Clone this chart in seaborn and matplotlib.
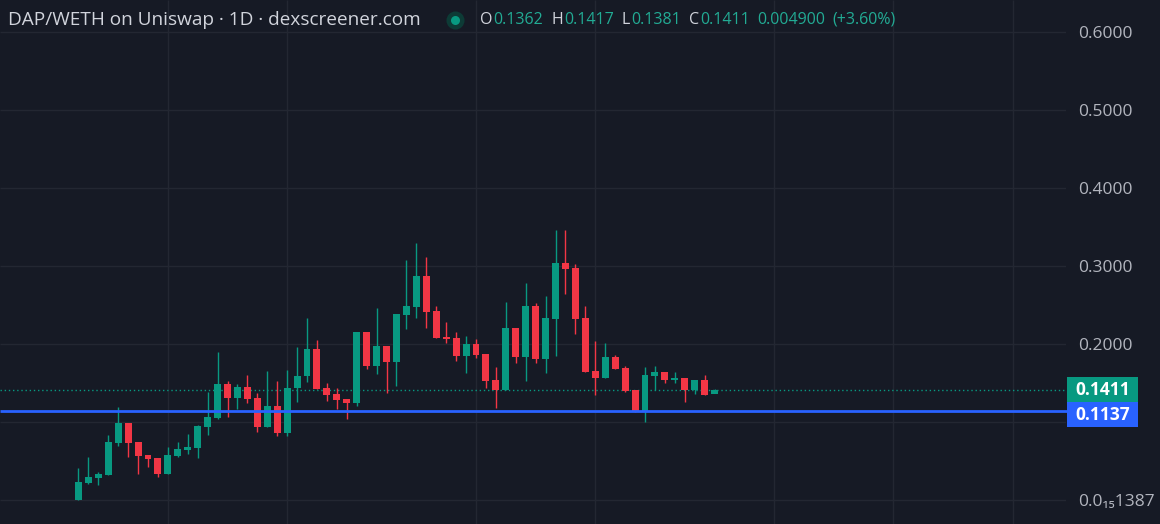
import numpy as np
import pandas as pd
import seaborn as sns
import matplotlib
matplotlib.use("Agg")
import matplotlib.pyplot as plt
from matplotlib.patches import Rectangle
from matplotlib.lines import Line2D

# ---------------- data ----------------
opens = [0.0, 0.0214, 0.0286, 0.0321, 0.0731, 0.0987, 0.0744, 0.0573, 0.0538, 0.0333,
         0.0564, 0.0641, 0.0671, 0.0940, 0.1051, 0.1487, 0.1308, 0.1449, 0.1308, 0.0936,
         0.1205, 0.0859, 0.1432, 0.1590, 0.1936, 0.1432, 0.1355, 0.1295, 0.1248, 0.2154,
         0.1722, 0.1974, 0.1773, 0.2372, 0.2474, 0.2872, 0.2423, 0.2094, 0.2081, 0.1846,
         0.2000, 0.1872, 0.1538, 0.1410, 0.2205, 0.1838, 0.2487, 0.1808, 0.2325, 0.3043,
         0.2974, 0.2333, 0.1654, 0.1568, 0.1838, 0.1697, 0.1410, 0.1132, 0.1594, 0.1641,
         0.1538, 0.1564, 0.1406, 0.1538, 0.1362]
highs = [0.0414, 0.0547, 0.0355, 0.0837, 0.1196, 0.0987, 0.0744, 0.0573, 0.0540, 0.0684,
         0.0744, 0.0846, 0.0960, 0.1389, 0.1893, 0.1522, 0.1487, 0.1607, 0.1372, 0.1654,
         0.1526, 0.1667, 0.1966, 0.2337, 0.2051, 0.1496, 0.1432, 0.1295, 0.2154, 0.2154,
         0.2465, 0.1974, 0.2385, 0.3077, 0.3299, 0.3120, 0.2483, 0.2286, 0.2150, 0.2103,
         0.2064, 0.1872, 0.1709, 0.2538, 0.2205, 0.2786, 0.2521, 0.2615, 0.3462, 0.3462,
         0.3026, 0.2487, 0.2043, 0.2017, 0.1855, 0.1722, 0.1410, 0.1709, 0.1722, 0.1641,
         0.1637, 0.1564, 0.1538, 0.1607, 0.1417]
lows = [0.0, 0.0210, 0.0188, 0.0320, 0.0692, 0.0551, 0.0333, 0.0423, 0.0299, 0.0333,
        0.0556, 0.0590, 0.0542, 0.0833, 0.1034, 0.1068, 0.1167, 0.1240, 0.0876, 0.0936,
        0.0824, 0.0824, 0.1256, 0.1517, 0.1427, 0.1273, 0.1163, 0.1038, 0.1209, 0.1679,
        0.1619, 0.1368, 0.1462, 0.2188, 0.2337, 0.2209, 0.2081, 0.2017, 0.1786, 0.1624,
        0.1821, 0.1440, 0.1183, 0.1410, 0.1752, 0.1530, 0.1760, 0.1624, 0.1846, 0.2641,
        0.2128, 0.1645, 0.1346, 0.1568, 0.1684, 0.1389, 0.1132, 0.1000, 0.1406, 0.1504,
        0.1504, 0.1256, 0.1355, 0.1350, 0.1381]
closes = [0.0231, 0.0299, 0.0333, 0.0744, 0.0987, 0.0731, 0.0564, 0.0526, 0.0329, 0.0577,
          0.0654, 0.0679, 0.0949, 0.1064, 0.1487, 0.1308, 0.1449, 0.1295, 0.0936, 0.1205,
          0.0859, 0.1432, 0.1590, 0.1936, 0.1427, 0.1350, 0.1286, 0.1248, 0.2154, 0.1722,
          0.1974, 0.1773, 0.2385, 0.2487, 0.2872, 0.2415, 0.2081, 0.2064, 0.1846, 0.2000,
          0.1859, 0.1530, 0.1410, 0.2205, 0.1838, 0.2487, 0.1808, 0.2333, 0.3043, 0.2962,
          0.2325, 0.1645, 0.1568, 0.1838, 0.1684, 0.1397, 0.1132, 0.1603, 0.1641, 0.1538,
          0.1564, 0.1406, 0.1538, 0.1350, 0.1411]

price_ticks = [0.0, 0.2, 0.3, 0.4, 0.5, 0.6]
price_tick_labels = ["0.0\u2081\u20851387", "0.2000", "0.3000", "0.4000", "0.5000", "0.6000"]
grid_prices = [0.0, 0.1, 0.2, 0.3, 0.4, 0.5, 0.6]
time_grid = [9, 21, 40, 52, 70, 82, 94]

last_price = 0.1411
line_price = 0.1137
title = "DAP/WETH on Uniswap \u00b7 1D \u00b7 dexscreener.com"
ohlc_parts = [("O", "0.1362"), ("H", "0.1417"), ("L", "0.1381"), ("C", "0.1411")]
change_text = ["0.004900", "(+3.60%)"]

# ---------------- style ----------------
BG = "#161a25"
GRID = "#232732"
UP = "#089981"
DOWN = "#f23645"
BLUE = "#2962ff"
TXT = "#b2b5be"

sns.set_theme(style="dark")
plt.rcParams["font.family"] = ["Open Sans", "DejaVu Sans"]

df = pd.DataFrame({"o": opens, "h": highs, "l": lows, "c": closes})
df["x"] = np.arange(len(df))
df["up"] = df["c"] >= df["o"]
df["col"] = np.where(df["up"], UP, DOWN)
df["bottom"] = df[["o", "c"]].min(axis=1)
df["height"] = (df["c"] - df["o"]).abs().clip(lower=0.0015)

W, H = 1160, 524
fig = plt.figure(figsize=(W / 100, H / 100), dpi=100)
fig.patch.set_facecolor(BG)
pane_w = 1066
ax = fig.add_axes([0, 0, pane_w / W, 1])
ax.set_facecolor(BG)
for s in ax.spines.values():
    s.set_visible(False)

ax.set_xlim(-78.4 / 9.94, (pane_w - 78.4) / 9.94)
ax.set_ylim(-24 / 780, 500 / 780)

# grid
ax.hlines(grid_prices, *ax.get_xlim(), colors=GRID, lw=1, zorder=0)
ax.vlines(time_grid, *ax.get_ylim(), colors=GRID, lw=1, zorder=0)

# price lines
ax.axhline(last_price, color=UP, lw=1, ls=(0, (1, 2)), zorder=1)

# candles
ax.vlines(df["x"], df["l"], df["h"], colors=df["col"], lw=1, zorder=2)
ax.bar(df["x"], df["height"], bottom=df["bottom"], width=0.7, color=df["col"],
       linewidth=0, zorder=3)

ax.plot([ax.get_xlim()[0], ax.get_xlim()[1] + 0.2], [line_price, line_price],
        color=BLUE, lw=2, zorder=4, clip_on=False, solid_capstyle="butt")

# right price scale
ax.set_xticks([])
ax.yaxis.tick_right()
ax.set_yticks(price_ticks)
ax.set_yticklabels(price_tick_labels)
ax.tick_params(axis="y", length=0, pad=9, labelsize=12.5, labelcolor=TXT)
ax.grid(False)

# price labels boxes
fig.canvas.draw()
def fig_y(p):
    return ax.transData.transform((0, p))[1]

box_x0, box_w, box_h = 1067, 71, 25
y_last = fig_y(last_price)
y_line = min(fig_y(line_price), y_last - box_h)
for yc, col, txt in [(y_last, UP, f"{last_price:.4f}"), (y_line, BLUE, f"{line_price:.4f}")]:
    fig.add_artist(Rectangle((box_x0 / W, (yc - box_h / 2) / H), box_w / W, box_h / H,
                             transform=fig.transFigure, facecolor=col, edgecolor="none",
                             zorder=10))
    fig.text((box_x0 + box_w / 2) / W, yc / H, txt, color="white", ha="center",
             va="center", fontsize=12.5, fontweight="bold", zorder=11)

# header
ty = 1 - 20 / H
fig.text(8 / W, ty, title, color="#d1d4dc", fontsize=13.7, va="center", ha="left")
fig.add_artist(Line2D([455 / W], [ty], marker="o", markersize=13, color="#0d3b36",
                      markeredgewidth=0, transform=fig.transFigure))
fig.add_artist(Line2D([455 / W], [ty], marker="o", markersize=6.5, color=UP,
                      markeredgewidth=0, transform=fig.transFigure))

renderer = fig.canvas.get_renderer()
x = 480
VAL = "#22ab94"
for lab, val in ohlc_parts:
    t = fig.text(x / W, ty, lab, color="#d1d4dc", fontsize=11.5, va="center", ha="left")
    x = t.get_window_extent(renderer).x1 + 1
    t = fig.text(x / W, ty, val, color=VAL, fontsize=11.5, va="center", ha="left")
    x = t.get_window_extent(renderer).x1 + 8
for val in change_text:
    t = fig.text(x / W, ty, val, color=VAL, fontsize=11.5, va="center", ha="left")
    x = t.get_window_extent(renderer).x1 + 7

fig.savefig("out.png", dpi=100, facecolor=BG)
